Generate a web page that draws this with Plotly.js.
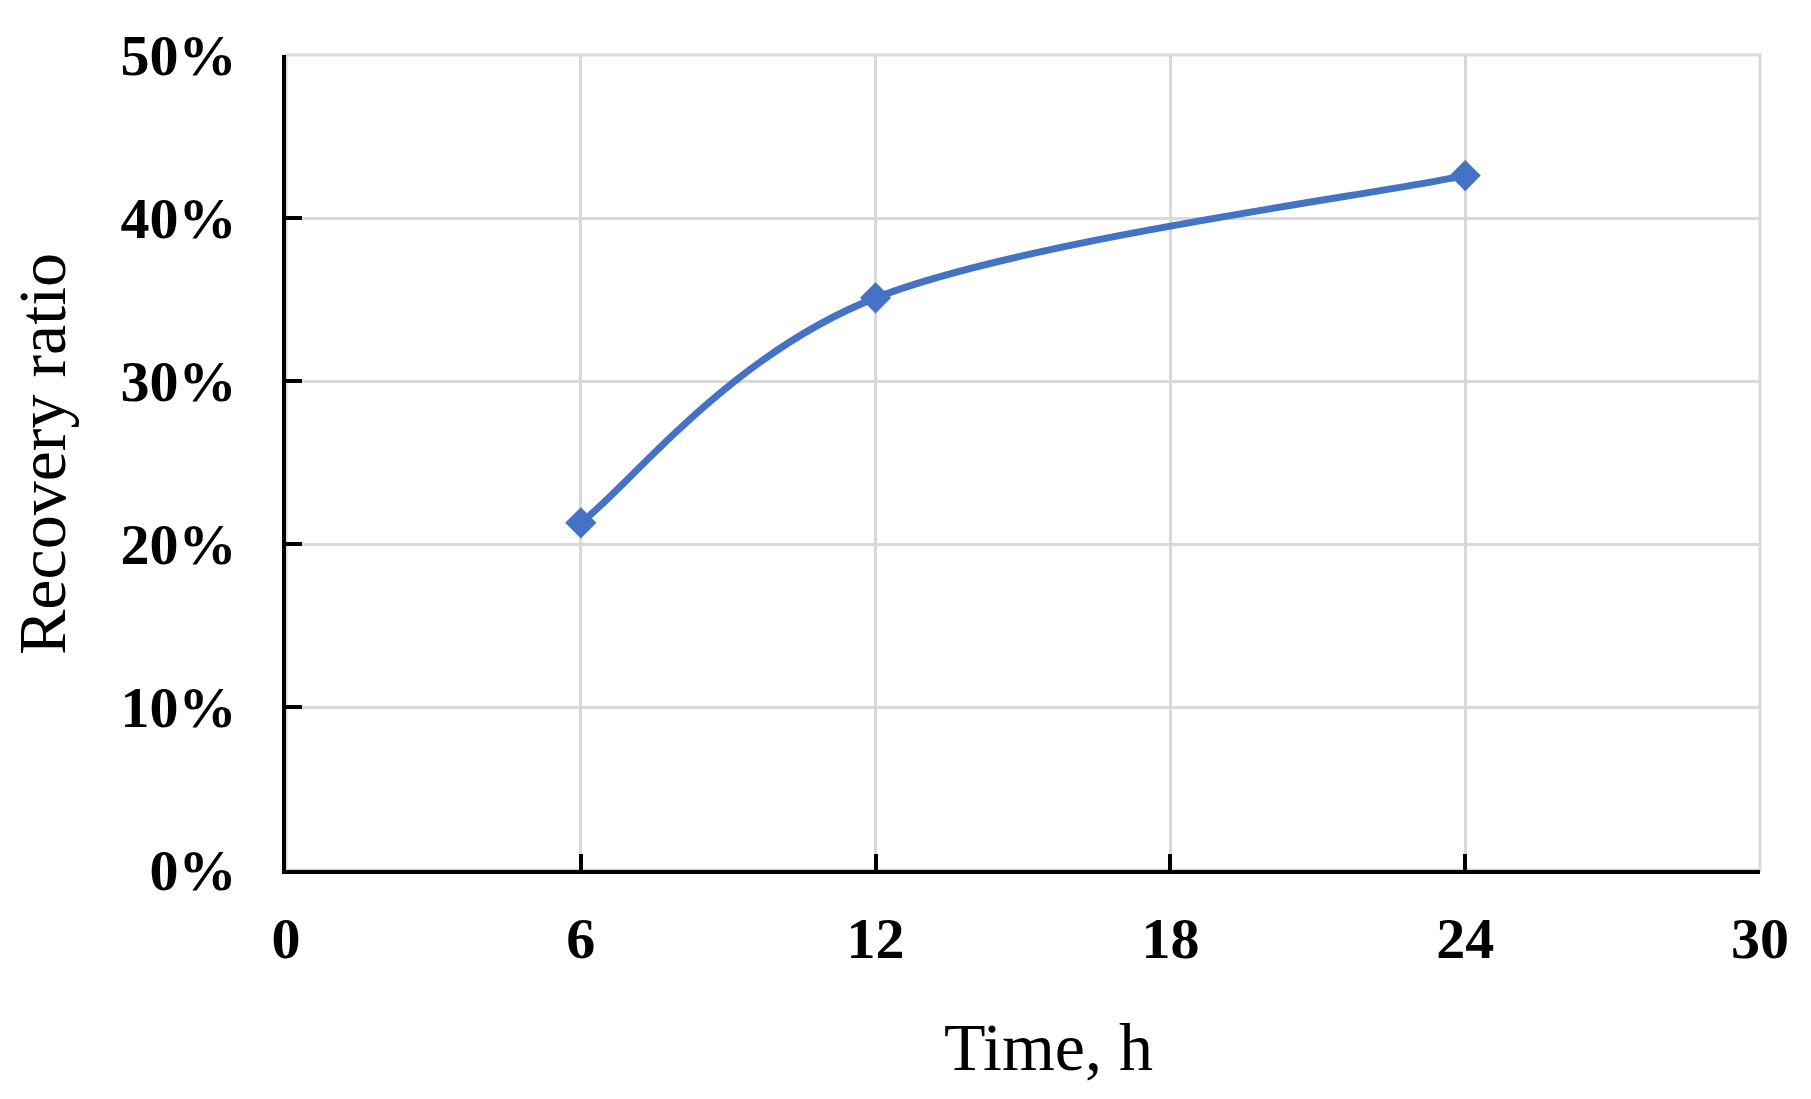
<!DOCTYPE html>
<html>
<head>
<meta charset="utf-8">
<script src="https://cdn.plot.ly/plotly-3.0.1.min.js"></script>
<style>
  html, body { margin: 0; padding: 0; background: #ffffff; }
  #chart { width: 1811px; height: 1099px; }
</style>
</head>
<body>
<div id="chart"></div>
<script>
// data
var timeHours = [6, 12, 24];
var recoveryRatio = [0.213, 0.351, 0.426];

var xTicks = [0, 6, 12, 18, 24, 30];
var yTicks = [0, 0.1, 0.2, 0.3, 0.4, 0.5];

var blue = '#4472C4';

// smoothed line like the spreadsheet one (Catmull-Rom -> cubic bezier, ends repeated)
function smoothPath(xs, ys) {
    var n = xs.length;
    var p = 'M' + xs[0] + ',' + ys[0];
    for (var i = 0; i < n - 1; i++) {
        var i0 = Math.max(i - 1, 0), i3 = Math.min(i + 2, n - 1);
        var c1x = xs[i] + (xs[i + 1] - xs[i0]) / 6;
        var c1y = ys[i] + (ys[i + 1] - ys[i0]) / 6;
        var c2x = xs[i + 1] - (xs[i3] - xs[i]) / 6;
        var c2y = ys[i + 1] - (ys[i3] - ys[i]) / 6;
        p += ' C' + c1x + ',' + c1y + ' ' + c2x + ',' + c2y + ' ' + xs[i + 1] + ',' + ys[i + 1];
    }
    return p;
}

var trace = {
    x: timeHours,
    y: recoveryRatio,
    type: 'scatter',
    mode: 'markers',
    marker: { symbol: 'diamond', size: 24, color: blue },
    showlegend: false,
    hoverinfo: 'x+y'
};

var serif = 'Liberation Serif, Times New Roman, serif';
var tickFont = { family: serif, size: 58, color: '#000000', weight: 'bold' };
var titleFont = { family: serif, size: 68, color: '#000000' };

var layout = {
    width: 1811,
    height: 1099,
    margin: { l: 286, r: 51, t: 55, b: 229 },
    paper_bgcolor: '#ffffff',
    plot_bgcolor: '#ffffff',
    xaxis: {
        range: [0, 30],
        tickvals: xTicks,
        ticktext: xTicks.map(String),
        showgrid: true,
        gridcolor: '#d9d9d9',
        gridwidth: 3,
        zeroline: false,
        showline: true,
        linecolor: '#000000',
        linewidth: 4,
        ticks: 'inside',
        ticklen: 16,
        tickwidth: 4,
        tickcolor: '#000000',
        ticklabelstandoff: 14,
        tickfont: tickFont,
        title: { text: '&nbsp;&nbsp;&nbsp;Time, h', font: titleFont, standoff: 54 },
        fixedrange: true
    },
    yaxis: {
        range: [0, 0.5],
        tickvals: yTicks,
        ticktext: yTicks.map(function (v) { return Math.round(v * 100) + '%'; }),
        showgrid: true,
        gridcolor: '#d9d9d9',
        gridwidth: 3,
        zeroline: false,
        showline: true,
        linecolor: '#000000',
        linewidth: 4,
        ticks: 'inside',
        ticklen: 16,
        tickwidth: 4,
        tickcolor: '#000000',
        ticklabelstandoff: 34,
        tickfont: tickFont,
        title: { text: '&nbsp;Recovery ratio', font: titleFont, standoff: 34 },
        fixedrange: true
    },
    shapes: [
        // light frame on top and right, where the far gridlines sit
        { type: 'rect', xref: 'paper', yref: 'paper', x0: 0, x1: 1, y0: 0, y1: 1,
          line: { color: '#d9d9d9', width: 3 }, layer: 'below' },
        { type: 'path', xref: 'x', yref: 'y', path: smoothPath(timeHours, recoveryRatio),
          line: { color: blue, width: 7 }, layer: 'between' }
    ]
};

Plotly.newPlot('chart', [trace], layout, { displayModeBar: false, staticPlot: true });
</script>
</body>
</html>
